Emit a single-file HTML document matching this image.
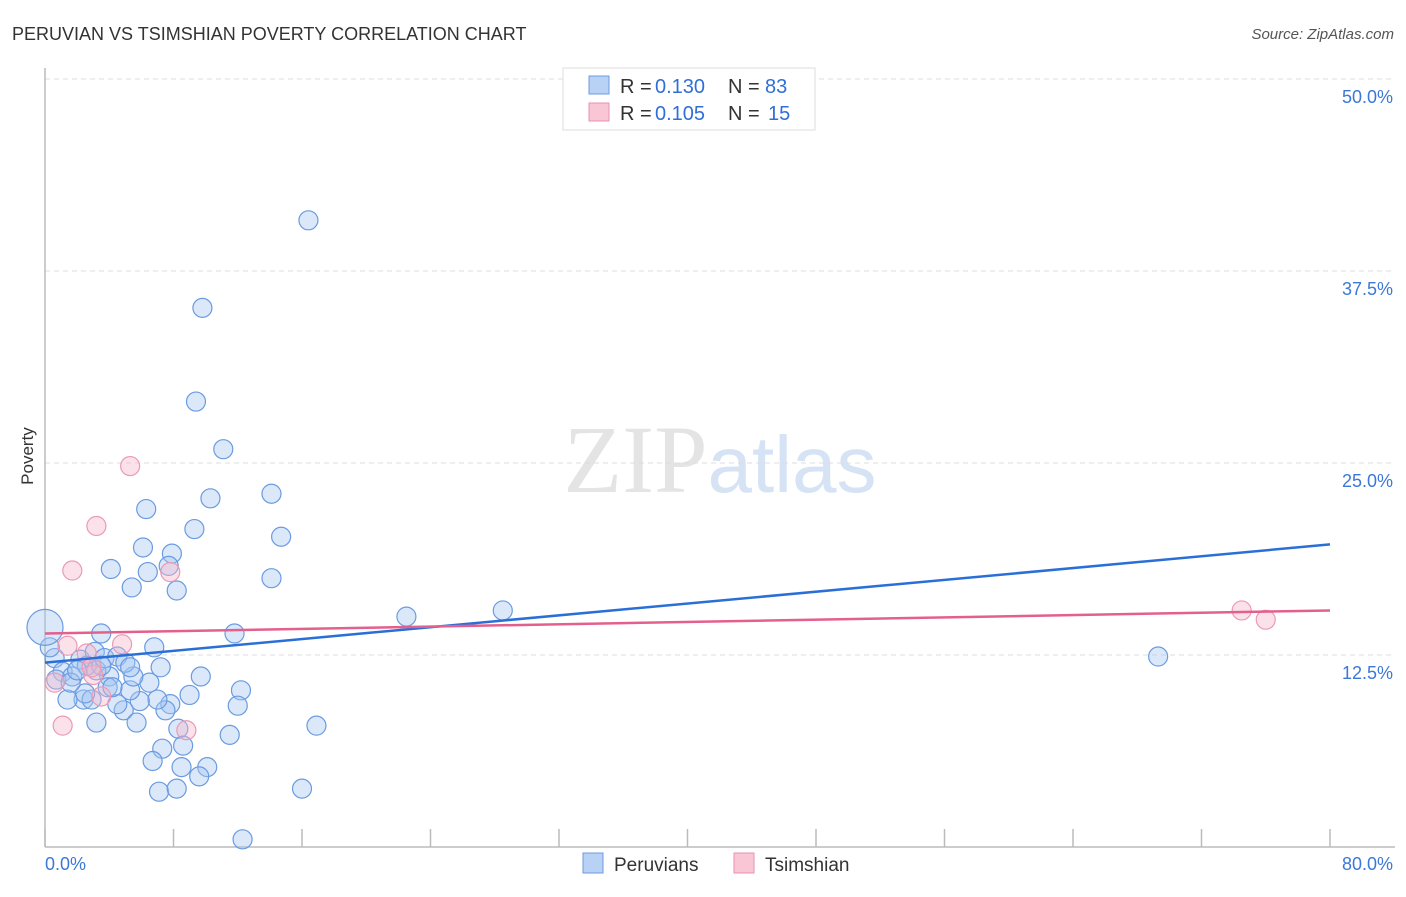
<!DOCTYPE html>
<html><head><meta charset="utf-8"><style>
body{margin:0;background:#fff;font-family:"Liberation Sans",sans-serif}
</style></head><body>
<svg id="c" width="1406" height="892" xmlns="http://www.w3.org/2000/svg">
<text x="12" y="40" font-size="18" fill="#333">PERUVIAN VS TSIMSHIAN POVERTY CORRELATION CHART</text>
<text x="1394" y="39" font-size="15" fill="#555" font-style="italic" text-anchor="end">Source: ZipAtlas.com</text>
<text x="33" y="456" font-size="17" fill="#333" transform="rotate(-90 33 456)" text-anchor="middle">Poverty</text>
<text x="720" y="492" font-size="96" fill="#e4e4e4" text-anchor="middle" font-family="Liberation Serif">ZIP<tspan fill="#d6e3f5" font-family="Liberation Sans" font-size="80">atlas</tspan></text>
<g id="grid"></g><g id="axes"></g><g id="pts"></g><g id="lines"></g>
<g>
<rect x="563" y="68" width="252" height="62" fill="#fff" stroke="#ddd"/>
<rect x="589" y="76" width="20" height="18" fill="#b8d2f5" stroke="#6c9be0"/>
<rect x="589" y="103" width="20" height="18" fill="#f8c6d5" stroke="#e993ae"/>
<text x="620" y="93" font-size="20" fill="#333">R =</text><text x="655" y="93" font-size="20" fill="#2f6fd6">0.130</text>
<text x="728" y="93" font-size="20" fill="#333">N =</text><text x="765" y="93" font-size="20" fill="#2f6fd6">83</text>
<text x="620" y="120" font-size="20" fill="#333">R =</text><text x="655" y="120" font-size="20" fill="#2f6fd6">0.105</text>
<text x="728" y="120" font-size="20" fill="#333">N =</text><text x="768" y="120" font-size="20" fill="#2f6fd6">15</text>
</g>
<g>
<rect x="583" y="853" width="20" height="20" fill="#b8d2f5" stroke="#6c9be0"/>
<text x="614" y="871" font-size="19" fill="#333">Peruvians</text>
<rect x="734" y="853" width="20" height="20" fill="#f8c6d5" stroke="#e993ae"/>
<text x="765" y="871" font-size="19" fill="#333">Tsimshian</text>
</g>
</svg>
<script>
const yTicks=[12.5,25.0,37.5,50.0];
const xTickLabels=["0.0%","80.0%"];
const peruX=[16.4,9.8,9.4,11.1,10.3,14.1,6.3,9.3,14.7,6.1,7.9,7.7,4.1,6.4,14.1,5.4,8.2,22.5,28.5,69.3,3.5,11.8,6.8,7.2,9.7,12.2,12.0,9.0,7.8,7.5,7.0,5.9,6.5,5.3,5.5,4.9,4.5,5.7,3.2,8.3,8.6,7.3,6.7,8.5,10.1,9.6,7.1,8.2,11.5,16.9,16.0,12.3,4.0,2.4,1.4,2.9,2.5,3.9,4.2,3.2,2.2,3.1,3.7,4.5,5.0,5.3,0.6,0.3,1.1,0.7,1.7,1.6,2.6,3.5,2.0];
const peruY=[40.8,35.1,29.0,25.9,22.7,23.0,22.0,20.7,20.2,19.5,19.1,18.3,18.1,17.9,17.5,16.9,16.7,15.0,15.4,12.4,13.9,13.9,13.0,11.7,11.1,10.2,9.2,9.9,9.3,8.9,9.6,9.5,10.7,10.2,11.1,8.9,9.3,8.1,8.1,7.7,6.6,6.4,5.6,5.2,5.2,4.6,3.6,3.8,7.3,7.9,3.8,0.5,11.1,9.6,9.6,9.6,10.0,10.4,10.4,11.5,12.2,12.7,12.3,12.4,12.0,11.7,12.3,13.0,11.4,10.9,11.1,10.7,11.8,11.8,11.5];
const tsimX=[5.3,3.2,1.7,7.8,74.5,76.0,1.4,4.8,2.6,3.0,0.6,3.5,1.1,8.8,2.9];
const tsimY=[24.8,20.9,18.0,17.9,15.4,14.8,13.1,13.2,12.6,11.2,10.7,9.8,7.9,7.6,11.7];
const peruTrend=[12.0,19.7];
const tsimTrend=[13.9,15.4];
const X=v=>45+v/80*1285, Y=v=>847-v*15.36;
const ns="http://www.w3.org/2000/svg";
function mk(t,a,p){const e=document.createElementNS(ns,t);for(const k in a)e.setAttribute(k,a[k]);document.getElementById(p).appendChild(e);return e;}
yTicks.forEach(t=>{
 const l=mk('line',{x1:45,x2:1395,y1:Y(t),y2:Y(t),stroke:'#ddd','stroke-dasharray':'5,4'},'grid');
 
 
 const tx=mk('text',{x:1393,y:Y(t)+24,'font-size':18,fill:'#3b78d8','text-anchor':'end'},'grid');
 tx.textContent=t.toFixed(1)+'%';
 
 
});
mk('line',{x1:45,x2:45,y1:68,y2:847,stroke:'#bbb','stroke-width':1.5},'axes');
mk('line',{x1:45,x2:1395,y1:847,y2:847,stroke:'#bbb','stroke-width':1.5},'axes');
for(let i=0;i<=10;i++){const t=mk('line',{x1:X(i*8),x2:X(i*8),y1:829,y2:847,stroke:'#bbb','stroke-width':1.5},'axes');
 
 }
[[0,45,'start'],[1,1393,'end']].forEach(([i,x,a])=>{const t=mk('text',{x:x,y:870,'font-size':18,fill:'#3b78d8','text-anchor':a},'axes');t.textContent=xTickLabels[i];
 
 });
peruX.forEach((v,i)=>{const c=mk('circle',{cx:X(v),cy:Y(peruY[i]),r:9.5,fill:'rgba(165,198,242,0.4)',stroke:'#6a9be0','stroke-width':1.2},'pts');
 
 });
const big=mk('circle',{cx:X(0),cy:Y(14.3),r:18,fill:'rgba(165,198,242,0.4)',stroke:'#6a9be0','stroke-width':1.2},'pts');


tsimX.forEach((v,i)=>{const c=mk('circle',{cx:X(v),cy:Y(tsimY[i]),r:9.5,fill:'rgba(246,182,202,0.4)',stroke:'#ec9ab3','stroke-width':1.2},'pts');
 
 });
const l1=mk('line',{x1:X(0),x2:X(80),y1:Y(peruTrend[0]),y2:Y(peruTrend[1]),stroke:'#2a6fd8','stroke-width':2.5},'lines');


const l2=mk('line',{x1:X(0),x2:X(80),y1:Y(tsimTrend[0]),y2:Y(tsimTrend[1]),stroke:'#e4608c','stroke-width':2.5},'lines');


</script>
</body></html>
